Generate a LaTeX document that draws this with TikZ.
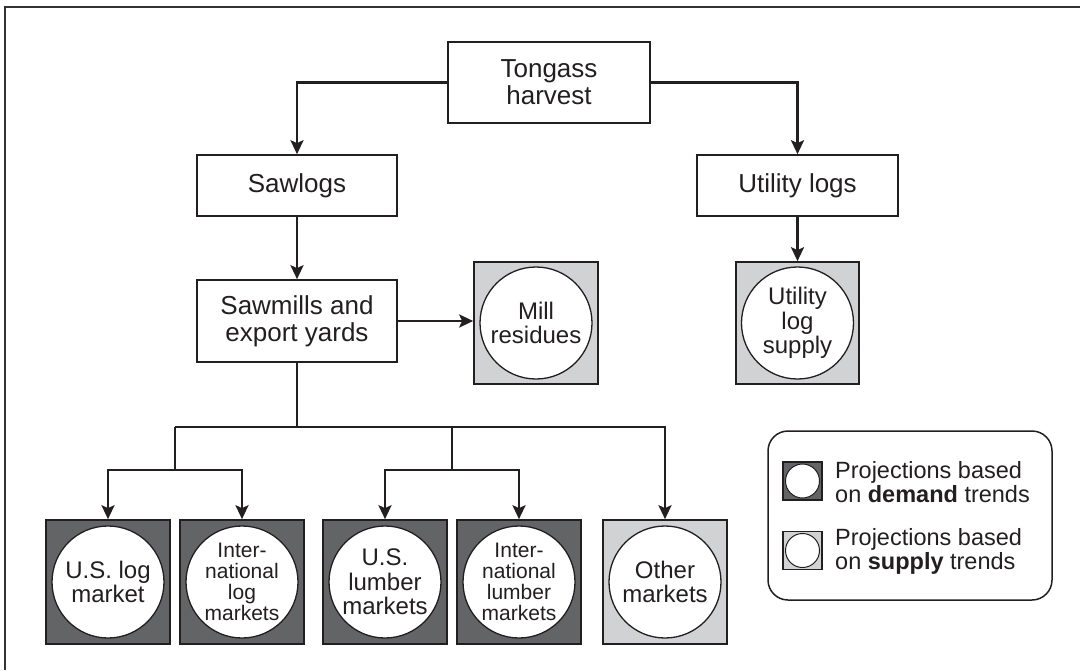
\documentclass[tikz,border=0pt]{standalone}
\usepackage{fontspec}
\setmainfont{Liberation Sans}
\usetikzlibrary{arrows.meta,positioning}
\definecolor{ink}{HTML}{231F20}
\definecolor{dark}{HTML}{636466}
\definecolor{light}{HTML}{D1D2D4}
\tikzset{
  plainbox/.style={draw=ink, line width=1.6pt, fill=white, inner sep=0pt, align=center, text=ink,
    font=\fontsize{26}{27}\selectfont},
  dbox/.style={draw=ink, line width=1.6pt, fill=dark, minimum width=124pt, minimum height=124pt, inner sep=0pt},
  lbox/.style={draw=ink, line width=1.6pt, fill=light, minimum width=124pt, minimum height=122pt, inner sep=0pt},
  circ/.style={circle, draw=ink, line width=1.3pt, fill=white, minimum size=112pt, inner sep=0pt, align=center, text=ink,
    font=\fontsize{24}{24.5}\selectfont},
  circs/.style={circ, font=\fontsize{21}{21}\selectfont},
  conn/.style={draw=ink, line width=2.8pt},
  arr/.style={conn, -{Stealth[length=14pt,width=13pt,inset=3pt]}},
  legtext/.style={anchor=west, align=left, inner sep=0pt, text=ink, font=\fontsize{23.5}{24}\selectfont},
}
\begin{document}
\begin{tikzpicture}[x=1pt,y=-1pt]
\useasboundingbox (0,0) rectangle (1080,670);
\fill[white] (0,0) rectangle (1080,670);
% frame
\draw[draw=black!80, line width=2pt] (5,670) -- (5,7) -- (1080,7);

% top level boxes
\node[plainbox, minimum width=202pt, minimum height=81pt] (T) at (549,82.5) {Tongass\\harvest};
\node[plainbox, minimum width=200pt, minimum height=61pt] (S) at (297,185.5) {Sawlogs};
\node[plainbox, minimum width=201pt, minimum height=61pt] (U) at (797.5,185.5) {Utility logs};
\node[plainbox, minimum width=200pt, minimum height=82pt] (M) at (297,321) {Sawmills and\\export yards};

% supply-based boxes
\node[lbox] (MR) at (536,323) {};
\node[circ] (MRc) at (MR) {Mill\\residues};
\node[lbox, minimum width=123pt] (US) at (797.5,323) {};
\node[circ] (USc) at (US) {Utility\\log\\supply};

% bottom boxes
\node[dbox] (B1) at (108,582) {};
\node[circ] (B1c) at (B1) {U.S. log\\market};
\node[dbox] (B2) at (242,582) {};
\node[circs] (B2c) at (B2) {Inter-\\national\\log\\markets};
\node[dbox] (B3) at (385,582) {};
\node[circ] (B3c) at (B3) {U.S.\\lumber\\markets};
\node[dbox] (B4) at (519,582) {};
\node[circs] (B4c) at (B4) {Inter-\\national\\lumber\\markets};
\node[lbox, minimum height=124pt] (B5) at (665,582) {};
\node[circ] (B5c) at (B5) {Other\\markets};

% connectors
\draw[arr] (T.west) -| (S.north);
\draw[arr] (T.east) -| (U.north);
\draw[arr] (S.south) -- (M.north);
\draw[arr] (M.east) -- (M.east -| MR.west);
\draw[arr] (U.south) -- (US.north);

\coordinate (j0) at (297,427);
\coordinate (jL) at (175,427);
\coordinate (jR) at (452,427);
\coordinate (bL) at (175,470);
\coordinate (bR) at (452,470);
\draw[conn] (M.south) -- (j0);
\draw[arr] (jL) -| (B5.north);
\draw[conn] (jL) -- (bL);
\draw[conn] (jR) -- (bR);
\draw[arr] (bL) -| (B1.north);
\draw[arr] (bL) -| (B2.north);
\draw[arr] (bR) -| (B3.north);
\draw[arr] (bR) -| (B4.north);

% legend
\node[draw=ink, line width=1.5pt, rounded corners=20pt, minimum width=284pt, minimum height=169pt] (L) at (910,515.5) {};
\node[draw=ink, line width=1.2pt, fill=dark, minimum width=39pt, minimum height=38pt, inner sep=0pt] (LD) at (802.5,481) {};
\node[circle, draw=ink, line width=1pt, fill=white, minimum size=34pt, inner sep=0pt] (LDc) at (LD) {};
\node[draw=ink, line width=1.2pt, fill=light, minimum width=39pt, minimum height=38pt, inner sep=0pt] (LS) at (802.5,550.5) {};
\node[circle, draw=ink, line width=1pt, fill=white, minimum size=34pt, inner sep=0pt] (LSc) at (LS) {};
\node[legtext] (LDt) at (835,482) {Projections based\\on \textbf{demand} trends};
\node[legtext] (LSt) at (835,551.5) {Projections based\\on \textbf{supply} trends};
\end{tikzpicture}
\end{document}
